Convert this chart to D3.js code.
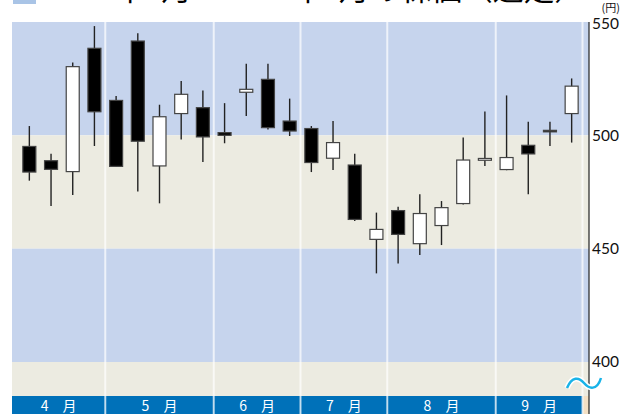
<!DOCTYPE html>
<html>
<head>
<meta charset="utf-8">
<script src="https://cdn.jsdelivr.net/npm/d3@7"></script>
<style>
  body { margin: 0; background: #fff; }
  svg { display: block; }
</style>
</head>
<body>
<div id="chart"></div>
<script>
// weekly candles, Apr - Sep
var months = ['4\u3000月', '5\u3000月', '6\u3000月', '7\u3000月', '8\u3000月', '9\u3000月'];
var weeksPerMonth = [4, 5, 4, 4, 5, 4];

var open  = [495.1, 488.8, 484.0, 538.4, 515.4, 541.6, 486.5, 509.6, 512.2,
             501.2, 519.0, 524.7, 506.3, 503.0, 489.9, 486.9, 454.1,
             466.8, 452.2, 460.2, 469.9, 489.0, 484.9, 495.6, 502.2, 509.6];
var high  = [504.1, 491.9, 532.1, 548.2, 517.3, 545.0, 513.5, 524.0, 519.8,
             514.2, 531.6, 531.6, 516.2, 504.1, 506.3, 491.9, 465.9,
             468.5, 474.0, 471.0, 499.0, 510.5, 517.6, 506.0, 506.0, 525.1];
var low   = [480.0, 468.8, 473.7, 495.3, 486.0, 475.2, 470.0, 498.2, 488.2,
             496.5, 508.5, 502.6, 499.7, 483.8, 484.7, 462.2, 439.1,
             443.5, 447.2, 451.6, 469.5, 486.5, 484.6, 474.0, 495.3, 496.8];
var close = [483.8, 485.0, 530.3, 510.4, 486.3, 497.4, 508.2, 518.1, 499.3,
             500.0, 520.3, 503.4, 501.9, 488.0, 496.8, 462.9, 458.5,
             456.3, 465.5, 468.1, 489.1, 489.8, 490.2, 491.8, 502.0, 521.7];

var yTicks = [400, 450, 500, 550];
var bands = [[550, 500, '#c6d4ed'], [500, 450, '#ecebe1'], [450, 400, '#c6d4ed'], [400, 380, '#ecebe1']];

var W = 621, H = 414;
var plotLeft = 12, plotRight = 589, plotTop = 22, barTop = 396;

var svg = d3.select('#chart').append('svg')
  .attr('width', W).attr('height', H)
  .style('font-family', 'Lato, "Noto Sans", sans-serif');

var weeks = d3.range(open.length);
var x = d3.scaleBand().domain(weeks).range([18.5, 582.5]);
var y = d3.scaleLinear().domain([400, 550]).range([362, plotTop]);

// background bands
svg.append('g').selectAll('rect').data(bands).join('rect')
  .attr('x', plotLeft)
  .attr('width', plotRight - plotLeft)
  .attr('y', function(d) { return y(d[0]); })
  .attr('height', function(d, i) {
    var bottom = i === bands.length - 1 ? barTop : y(d[1]);
    return bottom - y(d[0]);
  })
  .attr('fill', function(d) { return d[2]; });

// month spans
var starts = [], acc = 0;
weeksPerMonth.forEach(function(n) { starts.push(acc); acc += n; });
var monthSpan = months.map(function(m, i) {
  var x0 = i === 0 ? plotLeft : x(starts[i]);
  var last = starts[i] + weeksPerMonth[i] - 1;
  return { label: m, x0: x0, x1: x(last) + x.bandwidth() };
});

// bottom month bar
svg.append('rect')
  .attr('x', 582.5).attr('y', barTop).attr('width', plotRight - 582.5).attr('height', H - barTop)
  .attr('fill', '#f4e0c4');
svg.append('g').selectAll('rect').data(monthSpan).join('rect')
  .attr('x', function(d) { return d.x0; })
  .attr('y', barTop)
  .attr('width', function(d) { return d.x1 - d.x0; })
  .attr('height', H - barTop)
  .attr('fill', '#0071b9');
svg.append('g').selectAll('text').data(monthSpan).join('text')
  .attr('x', function(d) { return (d.x0 + d.x1) / 2; })
  .attr('y', 410.5)
  .attr('text-anchor', 'middle')
  .attr('fill', '#fff')
  .style('font-size', '14px')
  .style('font-family', '"Noto Sans CJK JP", sans-serif')
  .text(function(d) { return d.label; });

// month separators
svg.append('g').selectAll('line').data(monthSpan.slice(1).map(function(d) { return d.x0; }).concat([582.5])).join('line')
  .attr('x1', function(d) { return d; }).attr('x2', function(d) { return d; })
  .attr('y1', plotTop).attr('y2', H)
  .attr('stroke', '#fff').attr('stroke-width', 2).attr('stroke-opacity', 0.7);

// candles
var candles = svg.append('g').selectAll('g').data(weeks).join('g')
  .attr('transform', function(i) { return 'translate(' + (x(i) + x.bandwidth() / 2) + ',0)'; });

candles.append('line')
  .attr('y1', function(i) { return y(high[i]); })
  .attr('y2', function(i) { return y(low[i]); })
  .attr('stroke', '#222').attr('stroke-width', 1.4);

var bw = 13;
candles.append('rect')
  .attr('x', -bw / 2)
  .attr('width', bw)
  .attr('y', function(i) { return y(Math.max(open[i], close[i])); })
  .attr('height', function(i) { return Math.max(1.5, Math.abs(y(open[i]) - y(close[i]))); })
  .attr('fill', function(i) { return close[i] >= open[i] ? '#fff' : '#000'; })
  .attr('stroke', '#444').attr('stroke-width', 1.2);

// right axis
svg.append('line')
  .attr('x1', plotRight).attr('x2', plotRight)
  .attr('y1', plotTop).attr('y2', H)
  .attr('stroke', '#222').attr('stroke-width', 1.2);

var axis = svg.append('g')
  .attr('transform', 'translate(' + plotRight + ',0)')
  .call(d3.axisRight(y).tickValues(yTicks).tickSize(0).tickPadding(3));
axis.select('.domain').remove();
axis.selectAll('text')
  .attr('fill', '#111')
  .style('font-size', '15.5px')
  .style('font-family', 'Lato, sans-serif');
axis.selectAll('.tick').filter(function(d) { return d === 550; })
  .select('text').attr('dy', '0.45em');

svg.append('text')
  .attr('x', 620).attr('y', 12)
  .attr('text-anchor', 'end')
  .style('font-size', '11px')
  .style('font-family', '"Noto Sans CJK JP", sans-serif')
  .attr('fill', '#111')
  .text('(円)');

// axis break wave
var wave = 'M567,388 C572,376 579,377 584,383 S597,391 601,378';
svg.append('path').attr('d', wave).attr('fill', 'none')
  .attr('stroke', '#fff').attr('stroke-width', 5.5);
svg.append('path').attr('d', wave).attr('fill', 'none')
  .attr('stroke', '#19b3e8').attr('stroke-width', 2.5);

// title (cut at the top edge)
svg.append('rect')
  .attr('x', 13).attr('y', -20).attr('width', 23).attr('height', 24)
  .attr('fill', '#a9c4e6');
svg.append('text')
  .attr('x', 45).attr('y', 0)
  .attr('textLength', 540).attr('lengthAdjust', 'spacingAndGlyphs')
  .style('font-size', '30px')
  .style('font-family', '"Noto Sans CJK JP", sans-serif')
  .attr('fill', '#000')
  .text('2021年4月～2021年9月の株価（週足）');
</script>
</body>
</html>
